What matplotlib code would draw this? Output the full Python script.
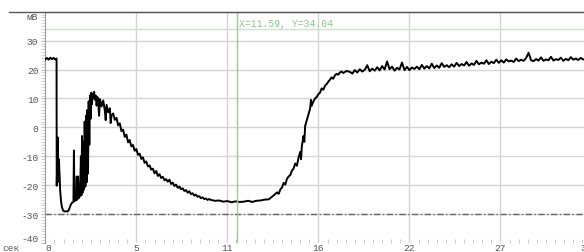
import numpy as np
import matplotlib
matplotlib.use("Agg")
import matplotlib.pyplot as plt
from matplotlib.lines import Line2D

# ---- data ----
head_t = [0.0, 0.1, 0.2, 0.3, 0.4, 0.5, 0.6, 0.68,
          0.69, 0.72, 0.74, 0.76, 0.78, 0.82, 0.86, 0.9, 0.95, 1.0, 1.08, 1.15, 1.25, 1.35, 1.43,
          1.52, 1.62, 1.7, 1.73, 1.76, 1.85, 1.9, 1.93, 1.98, 2.02, 2.1, 2.15, 2.18, 2.22, 2.26,
          2.3, 2.34, 2.38, 2.42, 2.46, 2.5, 2.54, 2.58, 2.62, 2.66, 2.7, 2.74, 2.78, 2.82, 2.86,
          2.9, 2.95, 3.0, 3.05, 3.1, 3.15, 3.2, 3.25, 3.3, 3.4, 3.5, 3.6, 3.65, 3.7, 3.8, 3.9,
          3.95, 4.0, 4.1, 4.2, 4.3, 4.4, 4.5, 4.6, 4.7, 4.8, 4.9, 5.0, 5.1, 5.2, 5.3, 5.4, 5.5,
          5.6, 5.7, 5.8, 5.9, 6.0, 6.1, 6.2, 6.3, 6.4, 6.5, 6.6, 6.7, 6.8, 6.9, 7.0, 7.1, 7.2,
          7.3, 7.4, 7.5, 7.6, 7.7, 7.8, 7.9, 8.0, 8.1, 8.2, 8.3, 8.4, 8.5, 8.6, 8.7, 8.8, 8.9,
          9.0, 9.1, 9.2, 9.3, 9.4, 9.5, 9.6, 9.7, 9.8, 9.9,
          10.0, 10.25, 10.5, 10.75, 11.0, 11.25, 11.5, 11.75, 12.0, 12.25, 12.5, 12.75, 13.0,
          13.25, 13.5, 13.7, 13.9, 14.0, 14.1, 14.2, 14.3, 14.4, 14.5, 14.6, 14.7, 14.8, 14.9,
          15.0, 15.1, 15.2, 15.3, 15.4, 15.45, 15.5, 15.6, 15.65, 15.7, 15.8, 15.9, 16.0, 16.05,
          16.1, 16.2, 16.3, 16.4, 16.5, 16.6, 16.7, 16.8, 16.9, 17.0, 17.1, 17.2, 17.3, 17.4,
          17.5, 17.6, 17.7, 17.8, 17.9, 18.0, 18.2]
head_v = [23.5, 24.0, 23.4, 24.1, 23.6, 24.0, 23.5, 23.8,
          -20.2, -12.0, -19.0, -3.5, -17.0, -11.0, -16.0, -22.0, -25.5, -27.5, -28.8, -29.1, -29.0, -29.1, -28.5,
          -27.0, -26.0, -25.8, -8.0, -25.5, -25.2, -17.0, -25.0, -17.0, -24.5, -23.7, -10.0, -23.5, -3.0, -22.5,
          -5.0, -21.5, 2.0, -20.5, 4.0, -19.0, 6.0, -16.0, 9.0, -6.0, 11.0, 3.0, 12.0, 8.0, 11.5,
          10.0, 12.3, 9.5, 11.0, 7.5, 10.5, 8.8, 4.0, 9.8, 7.2, 9.3, 5.6, 2.5, 7.8, 5.2, 6.6,
          1.5, 4.2, 4.8, 2.6, 3.3, 0.7, 1.4, -1.3, -0.8, -3.3, -2.5, -5.2, -4.4, -6.6, -6.1, -8.1, -7.5,
          -9.5, -9.1, -10.9, -10.4, -12.3, -11.8, -13.5, -13.2, -14.6, -14.3, -15.9, -15.1, -16.8, -16.2, -17.5, -17.1, -18.3,
          -17.9, -18.8, -18.1, -19.6, -19.1, -20.3, -19.8, -20.9, -20.5, -21.4, -21.1, -22.0, -21.7, -22.6, -22.1, -23.1, -22.8,
          -23.6, -23.3, -24.0, -23.8, -24.5, -24.2, -24.8, -24.6, -25.1, -24.8,
          -25.1, -25.4, -25.3, -25.7, -25.5, -25.9, -25.6, -25.8, -25.7, -25.4, -25.8, -25.4, -25.3,
          -25.0, -24.9, -24.0, -23.0, -22.5, -23.0, -21.5, -20.8, -19.2, -19.8, -17.8, -17.0, -16.5, -15.0,
          -14.2, -12.5, -13.3, -10.5, -8.5, -11.0, -6.5, -3.0, -5.0, 0.5, 2.5, 4.6, 6.5, 9.5,
          7.5, 9.0, 10.0, 10.5, 11.5, 12.0, 13.5, 13.0, 14.4, 15.0, 15.8, 16.5, 17.3, 16.8,
          18.0, 18.5, 18.2, 19.0, 19.3, 18.8, 19.5]

tail_t0 = 18.4
tail_dt = 0.15
tail_v = [19.2, 18.6, 19.8, 19.0, 20.1, 19.3, 19.9, 21.5, 19.4, 20.3, 19.6,
          20.8, 19.7, 21.2, 20.0, 22.8, 20.1, 21.0, 19.6, 20.6, 20.0, 22.4, 19.8, 20.9,
          19.8, 20.7, 20.2, 21.0, 20.1, 21.6, 20.3, 21.2, 20.4, 22.0, 20.5, 21.4, 20.6, 22.2, 20.9, 21.5, 20.8,
          21.8, 21.0, 22.3, 21.2, 21.9, 21.4, 22.6, 21.3, 22.1, 21.6, 23.0, 21.8, 22.4, 22.0, 23.2, 21.9, 22.7, 22.2, 23.4, 22.3,
          23.2, 22.4, 23.5, 22.8, 23.1, 22.6, 23.8, 22.9, 23.4, 23.0, 24.0, 25.8, 23.2, 22.9, 23.6, 23.1, 24.2,
          23.0, 23.5, 23.2, 24.4, 23.1, 23.6, 23.3, 24.1, 23.0, 23.7, 23.2, 24.3, 23.4, 23.8, 23.3, 24.0, 23.5]

x_ticks = [0, 5.5, 11, 16.5, 22, 27.5, 33]
x_labels = ["0", "5", "11", "16", "22", "27", "33"]
y_ticks = [-40, -30, -20, -10, 0, 10, 20, 30, 40]
y_labels = ["-40", "-30", "-20", "-10", "0", "10", "20", "30", "мВ"]
ref_level = -30
cursor_x = 11.59
cursor_y = 34.04

# ---- build series ----
tail_t = [tail_t0 + tail_dt * i for i in range(len(tail_v))]
t = np.array(head_t + tail_t)
v = np.array(head_v + tail_v)

W, H = 584, 253
fig = plt.figure(figsize=(W / 100, H / 100), dpi=100)
fig.patch.set_facecolor("white")
ax = fig.add_axes([45.3 / W, (H - 244) / H, 546.2 / W, 231.3 / H])
ax.set_xlim(0, 33)
ax.set_ylim(-40, 40)

mono = "Liberation Mono"
grid_c = "#d4d4d4"
for yt in y_ticks[1:-1]:
    ax.axhline(yt, color=grid_c, lw=1, zorder=1)
for xt in x_ticks[1:]:
    ax.axvline(xt, color=grid_c, lw=1, zorder=1)

ax.axhline(ref_level, color="#666666", lw=1, linestyle=(0, (4.5, 1.8, 1.0, 1.8)), zorder=2)

# cursor
ax.axhline(cursor_y, color="#c6e6c6", lw=1, zorder=2)
ax.axvline(cursor_x, color="#8cd68c", lw=1, zorder=4)
ax.text(cursor_x + 0.1, 36.2, f"X={cursor_x:.2f}, Y={cursor_y:.2f}", color="#8ec48e",
        fontsize=7, family=mono, va="center", ha="left", zorder=5)

ax.plot(t, v, color="black", lw=1.4, zorder=3)

# spines
for s in ["right", "bottom"]:
    ax.spines[s].set_visible(False)
ax.spines["top"].set_color("#555555")
ax.spines["left"].set_color("#999999")

ax.set_yticks(y_ticks)
ax.set_yticklabels(y_labels, family=mono, fontsize=6.8, color="#555555")
labs = ax.get_yticklabels()
labs[0].set_va("bottom")
labs[-1].set_va("top")
ax.set_yticks(np.arange(-40, 41, 1), minor=True)
ax.tick_params(axis="y", which="major", length=3, color="#bbbbbb", pad=2)
ax.tick_params(axis="y", which="minor", length=3, color="#cccccc")

ax.set_xticks(x_ticks)
ax.set_xticklabels(x_labels, family=mono, fontsize=6.8, color="#555555")
xl = ax.get_xticklabels()
xl[0].set_ha("left")
xl[-1].set_ha("right")
ax.set_xticks(np.arange(0, 33.01, 0.55), minor=True)
ax.tick_params(axis="x", which="major", length=0, pad=0)
ax.tick_params(axis="x", which="minor", length=3, direction="in", color="#c0c0c0")

fig.text(2 / W, 1 - 244.5 / H, "сек", family=mono, fontsize=6.8, color="#555555", va="top", ha="left")
fig.add_artist(Line2D([9 / W, 1], [1 - 13 / H, 1 - 13 / H], color="#555555", lw=1))

fig.savefig("out.png", dpi=100)
